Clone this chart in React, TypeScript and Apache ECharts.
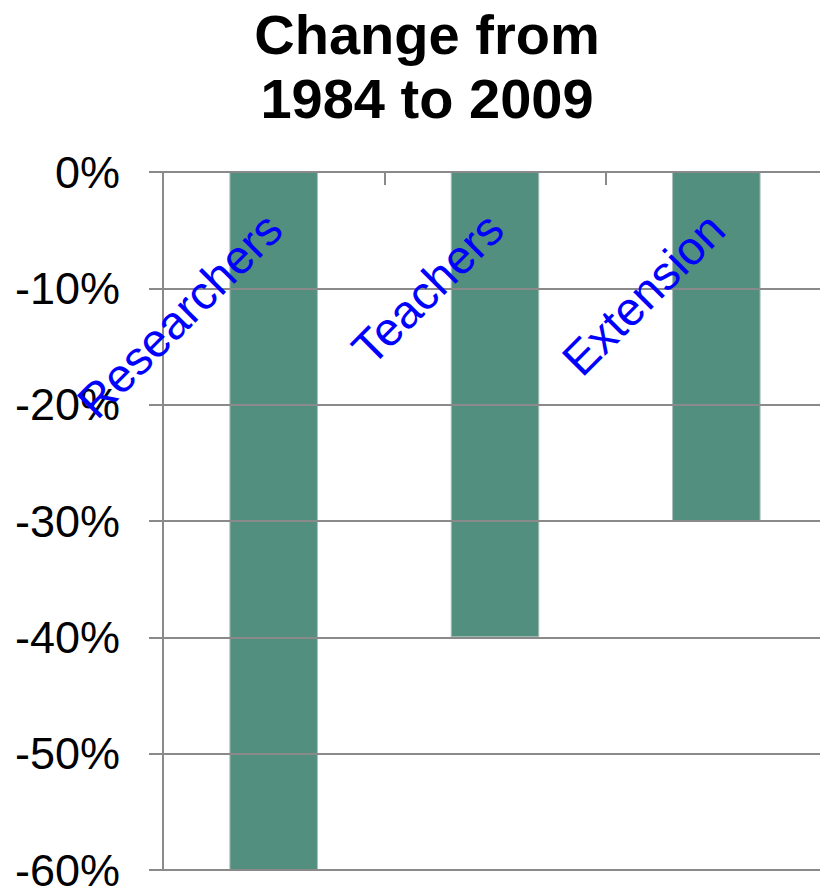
import React, { useEffect, useRef } from 'react';
import * as echarts from 'echarts';

const titleLines = ['Change from', '1984 to 2009'];
const categories = ['Researchers', 'Teachers', 'Extension'];
const changeValues = [-60, -40, -30];
const yMin = -60;
const yMax = 0;
const yStep = 10;

const FONT = '"Liberation Sans", Arial, Helvetica, sans-serif';
const GRID_COLOR = '#8a8a8a';

export default function App() {
  const ref = useRef<HTMLDivElement | null>(null);

  useEffect(() => {
    if (!ref.current) return;
    document.body.style.margin = '0';
    document.body.style.overflow = 'hidden';
    const chart = echarts.init(ref.current, undefined, { renderer: 'svg' });
    chart.setOption({
      animation: false,
      backgroundColor: '#ffffff',
      title: {
        text: titleLines.join('\n'),
        left: 427,
        top: 2,
        padding: 0,
        textAlign: 'center',
        textStyle: {
          fontFamily: FONT,
          fontSize: 56,
          fontWeight: 'bold',
          color: '#000000',
          lineHeight: 64,
        },
      },
      grid: {
        left: 163,
        top: 172,
        width: 664,
        height: 698,
        containLabel: false,
        outerBoundsMode: 'none',
      },
      xAxis: {
        type: 'category',
        position: 'top',
        data: categories,
        z: 10,
        axisLine: { show: true, lineStyle: { color: GRID_COLOR, width: 2 } },
        axisTick: { show: true, inside: true, length: 13, lineStyle: { color: GRID_COLOR, width: 2 } },
        axisLabel: {
          inside: true,
          rotate: 45,
          align: 'right',
          verticalAlign: 'middle',
          margin: 49,
          color: '#0000ff',
          fontSize: 47,
          fontFamily: FONT,
        },
        splitLine: { show: false },
      },
      yAxis: {
        type: 'value',
        min: yMin,
        max: yMax,
        interval: yStep,
        z: 9,
        axisLine: { show: true, lineStyle: { color: GRID_COLOR, width: 2 } },
        axisTick: { show: true, inside: false, length: 14, lineStyle: { color: GRID_COLOR, width: 2 } },
        axisLabel: {
          formatter: '{value}%',
          margin: 43,
          color: '#000000',
          fontSize: 45,
          fontFamily: FONT,
        },
        splitLine: { show: true, lineStyle: { color: GRID_COLOR, width: 2 } },
      },
      series: [
        {
          type: 'bar',
          data: changeValues,
          barWidth: '40%',
          itemStyle: {
            color: '#528f7e',
            borderColor: '#a9bfb7',
            borderWidth: 1,
          },
        },
      ],
    });
    return () => chart.dispose();
  }, []);

  return (
    <div
      ref={ref}
      style={{
        position: 'absolute',
        left: 0,
        top: 0,
        width: 820,
        height: 887,
        overflow: 'hidden',
        background: '#fff',
      }}
    />
  );
}
